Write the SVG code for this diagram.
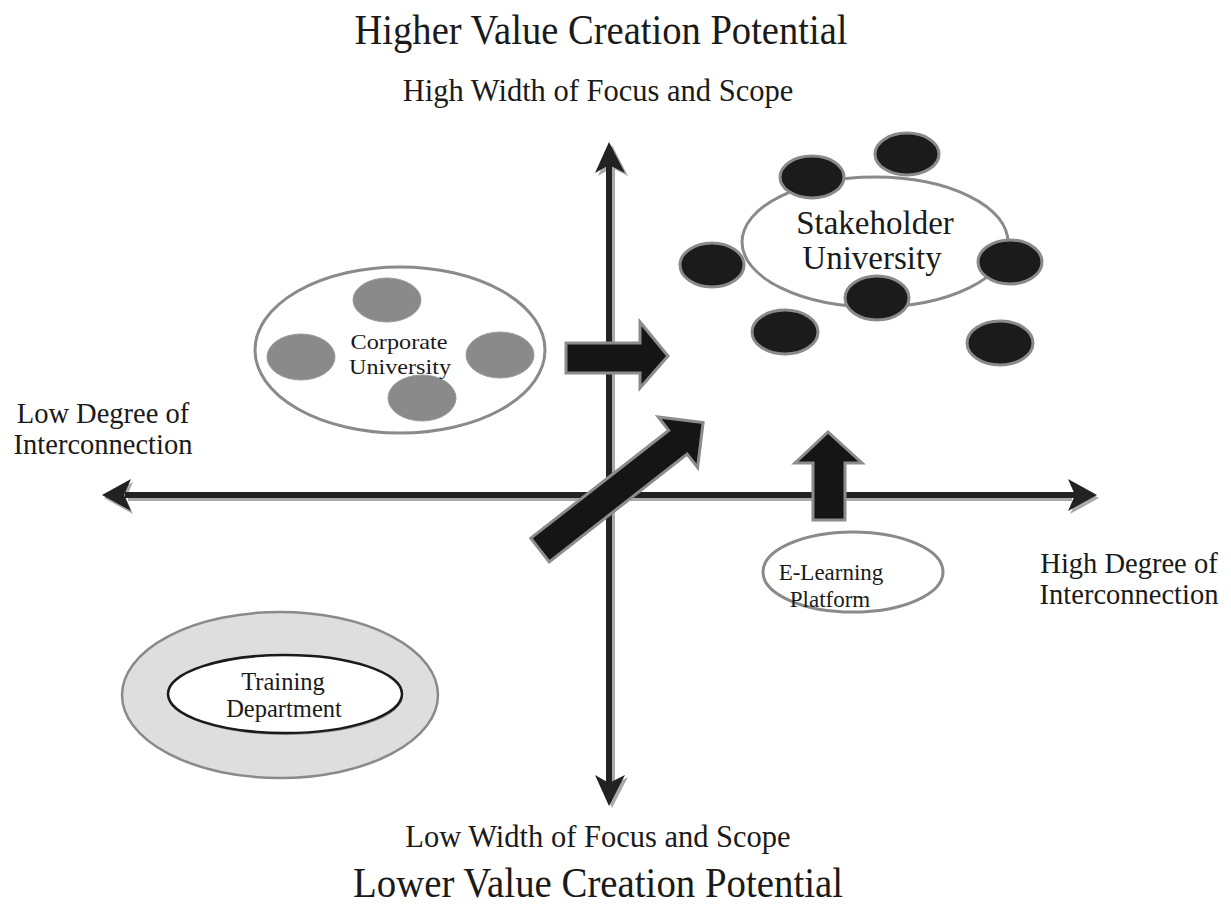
<svg xmlns="http://www.w3.org/2000/svg" width="1231" height="914" viewBox="0 0 1231 914">
<style>
text{font-family:"Liberation Serif","Times New Roman",serif;fill:#1a1a1a;text-anchor:middle}
.title{font-size:42px}
.sub{font-size:30.5px}
.lab{font-size:28.5px}
.axis{stroke:#222;stroke-width:6;fill:none}
.axsh{stroke:#aaa;stroke-width:6;fill:none}
.head{fill:#222}
.headsh{fill:#aaa}
.blk{fill:#151515;stroke:#8c8c8c;stroke-width:3;stroke-linejoin:miter}
.dot{fill:#1b1b1b;stroke:#8a8a8a;stroke-width:3}
.gdot{fill:#8a8a8a;stroke:#9a9a9a;stroke-width:1}
.ring{fill:#fff;stroke:#8a8a8a;stroke-width:3}
</style>
<rect width="1231" height="914" fill="#fff"/>

<g id="labels">
<text class="title" x="601" y="44" textLength="493" lengthAdjust="spacingAndGlyphs">Higher Value Creation Potential</text>
<text class="sub" x="598" y="101">High Width of Focus and Scope</text>
<text class="sub" x="598" y="847">Low Width of Focus and Scope</text>
<text class="title" x="598" y="897" textLength="490" lengthAdjust="spacingAndGlyphs">Lower Value Creation Potential</text>
<text class="lab" x="103" y="423">Low Degree of</text>
<text class="lab" x="103" y="454">Interconnection</text>
<text class="lab" x="1129" y="573">High Degree of</text>
<text class="lab" x="1129" y="604">Interconnection</text>
</g>

<g id="axes">
<line class="axsh" x1="128" y1="498" x2="1072" y2="498"/>
<line class="axsh" x1="612" y1="168" x2="612" y2="782"/>
<polygon class="headsh" points="104,498 133,482 126,498 133,514"/>
<polygon class="headsh" points="1099,498 1070,482 1077,498 1070,514"/>
<polygon class="headsh" points="612,145 598,176 612,168 628,176"/>
<polygon class="headsh" points="612,808 598,777 612,786 628,777"/>
<line class="axis" x1="125" y1="495" x2="1075" y2="495"/>
<line class="axis" x1="609" y1="165" x2="609" y2="784"/>
<polygon class="head" points="102,495 131,479 124,495 131,511"/>
<polygon class="head" points="1097,495 1068,479 1075,495 1068,511"/>
<polygon class="head" points="609,142 595,173 609,165 625,173"/>
<polygon class="head" points="609,806 595,775 609,783 625,775"/>
</g>

<g id="stakeholder-university">
<ellipse class="ring" cx="875" cy="242" rx="133" ry="65"/>
<ellipse class="dot" cx="907" cy="154" rx="32" ry="21"/>
<ellipse class="dot" cx="812" cy="177" rx="32" ry="21"/>
<ellipse class="dot" cx="712" cy="265" rx="32" ry="22"/>
<ellipse class="dot" cx="1010" cy="262" rx="32" ry="22"/>
<ellipse class="dot" cx="877" cy="298" rx="32" ry="22"/>
<ellipse class="dot" cx="785" cy="332" rx="33" ry="22"/>
<ellipse class="dot" cx="1000" cy="343" rx="33" ry="22"/>
<text x="875" y="234" font-size="33">Stakeholder</text>
<text x="872" y="269" font-size="33">University</text>
</g>

<g id="corporate-university">
<ellipse class="ring" cx="400" cy="350" rx="145" ry="83" stroke-width="2.5"/>
<ellipse class="gdot" cx="387" cy="300" rx="34" ry="22"/>
<ellipse class="gdot" cx="301" cy="357" rx="34" ry="23"/>
<ellipse class="gdot" cx="500" cy="355" rx="34" ry="23"/>
<ellipse class="gdot" cx="422" cy="398" rx="34" ry="23"/>
<text x="399" y="349" font-size="22" textLength="97" lengthAdjust="spacingAndGlyphs">Corporate</text>
<text x="400" y="374" font-size="22" textLength="102" lengthAdjust="spacingAndGlyphs">University</text>
</g>

<g id="e-learning-platform">
<ellipse class="ring" cx="853" cy="572" rx="90" ry="40" stroke-width="2.5"/>
<text x="831" y="580" font-size="23">E-Learning</text>
<text x="830" y="607" font-size="23">Platform</text>
</g>

<g id="training-department">
<ellipse cx="280" cy="695" rx="158" ry="83" fill="#dedede" stroke="#8a8a8a" stroke-width="2.5"/>
<ellipse cx="286" cy="696" rx="117" ry="39" fill="#9a9a9a"/>
<ellipse cx="285" cy="694" rx="117" ry="39" fill="#fff" stroke="#1a1a1a" stroke-width="2.5"/>
<text x="283" y="690" font-size="24.5">Training</text>
<text x="284" y="717" font-size="24.5">Department</text>
</g>

<g id="connectors">
<polygon class="blk" points="566,343 640,343 640,322 668,356 640,388 640,373 566,373"/>
<polygon class="blk" transform="translate(540,550) rotate(-38)" points="0,-15 175,-15 175,-32 207,0 175,32 175,15 0,15"/>
<polygon class="blk" points="813,520 813,463 795,463 828,432 862,463 845,463 845,520"/>
</g>
</svg>
